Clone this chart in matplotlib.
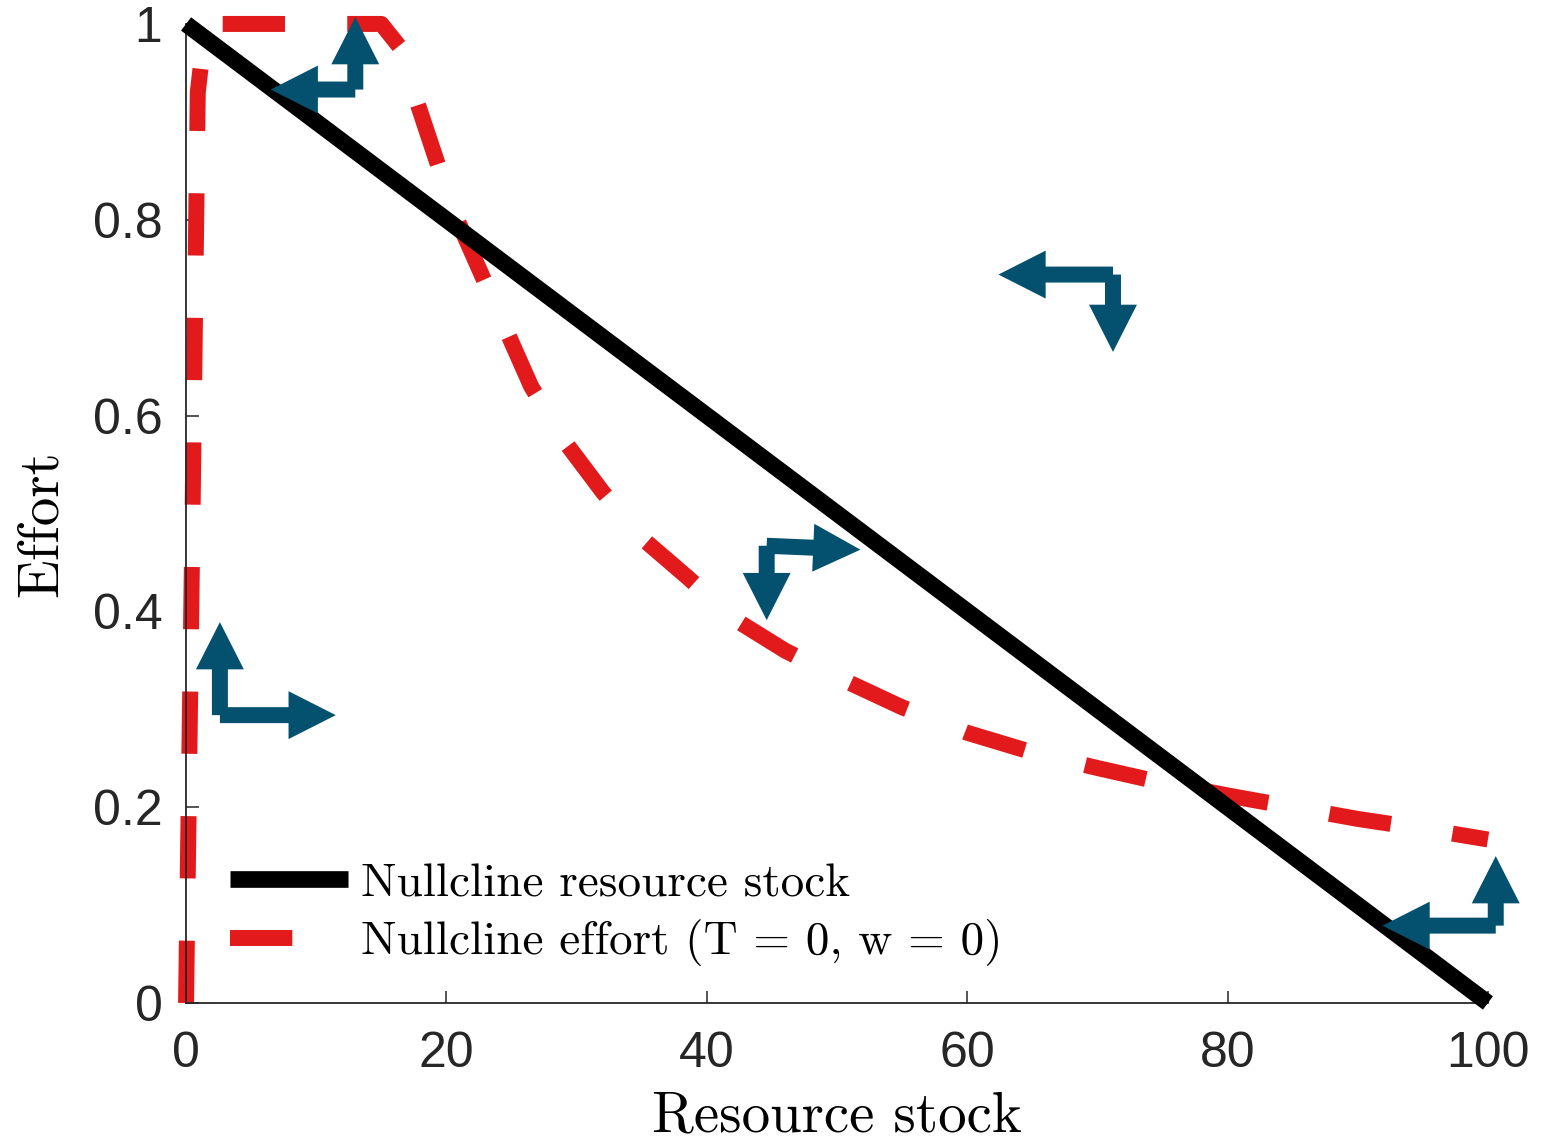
import numpy as np
import matplotlib
matplotlib.use('Agg')
import matplotlib.pyplot as plt
from matplotlib.patches import ArrowStyle

plt.rcParams['font.family'] = ['Liberation Sans', 'DejaVu Sans']

# nullcline of the resource stock: straight line
stock_x = [0, 100]
stock_y = [1, 0]

# nullcline of effort (T = 0, w = 0)
effort_x = [0, 0.5, 0.9, 1.5, 5, 10, 15, 16.5, 17.5, 19, 20.5, 22.5, 24.5, 26.5,
            29, 32, 35, 38.5, 42, 46, 50, 55, 60, 65, 70, 75, 80, 85, 90, 95, 100]
effort_y = [0, 0.5, 0.93, 1.0, 1.0, 1.0, 1.0, 0.975, 0.93, 0.87, 0.81, 0.75, 0.69, 0.63,
            0.575, 0.522, 0.475, 0.435, 0.393, 0.36, 0.333, 0.302, 0.276, 0.256, 0.24,
            0.225, 0.212, 0.2, 0.188, 0.178, 0.167]

# direction-field arrows: corner, horizontal tip, vertical tip
corner_x = [13.0, 71.2, 44.6, 2.6, 100.6]
corner_y = [0.933, 0.744, 0.467, 0.294, 0.079]
htip_x = [6.5, 62.4, 51.8, 11.5, 91.9]
htip_y = [0.933, 0.744, 0.463, 0.294, 0.079]
vtip_y = [1.007, 0.665, 0.391, 0.389, 0.150]

xticks = [0, 20, 40, 60, 80, 100]
yticks = [0, 0.2, 0.4, 0.6, 0.8, 1]
yticklabels = ['0', '0.2', '0.4', '0.6', '0.8', '1']

red = '#E31A1C'
blue = '#03506F'
dark = '#262626'

fig = plt.figure(figsize=(15.53, 11.40), dpi=100)
ax = fig.add_axes([0.1198, 0.1202, 0.8383, 0.8588])

ax.plot(stock_x, stock_y, color='black', linewidth=12, solid_capstyle='butt',
        clip_on=False, zorder=3, label='Nullcline resource stock')
ax.plot(effort_x, effort_y, color=red, linewidth=11.5, linestyle=(0, (3.9, 3.9)),
        dash_capstyle='butt', clip_on=False, zorder=2,
        label='Nullcline effort (T = 0, w = 0)')

style = ArrowStyle.Simple(head_length=3.4, head_width=3.45, tail_width=1.15)
for cx, cy, hx, hy, vy in zip(corner_x, corner_y, htip_x, htip_y, vtip_y):
    for tip in [(hx, hy), (cx, vy)]:
        ax.annotate('', xy=tip, xytext=(cx, cy), annotation_clip=False, zorder=4,
                    arrowprops=dict(arrowstyle=style, mutation_scale=10,
                                    color=blue, shrinkA=0, shrinkB=0, linewidth=0))

ax.set_xlim(0, 100)
ax.set_ylim(0, 1)
ax.set_xticks(xticks)
ax.set_yticks(yticks)
ax.set_yticklabels(yticklabels)

for side in ['top', 'right']:
    ax.spines[side].set_visible(False)
for side in ['left', 'bottom']:
    ax.spines[side].set_color(dark)
    ax.spines[side].set_linewidth(1.3)

ax.tick_params(axis='both', direction='in', length=9, width=1.1, color=dark,
               labelsize=36, labelcolor=dark)
ax.tick_params(axis='y', pad=17)
ax.tick_params(axis='x', pad=20)

ax.set_xlabel('Resource stock', fontfamily='cmr10', fontsize=41, va='center')
ax.xaxis.set_label_coords(0.5, -0.116)
ax.set_ylabel('Effort', fontfamily='cmr10', fontsize=41, va='center')
ax.yaxis.set_label_coords(-0.1106, 0.49)

ax.legend(loc='upper left', bbox_to_anchor=(0.034, 0.143), frameon=False,
          prop={'family': 'cmr10', 'size': 34}, handlelength=2.5,
          handletextpad=0.26, labelspacing=0.3, borderpad=0, borderaxespad=0)

fig.savefig('out.png', dpi=100)
